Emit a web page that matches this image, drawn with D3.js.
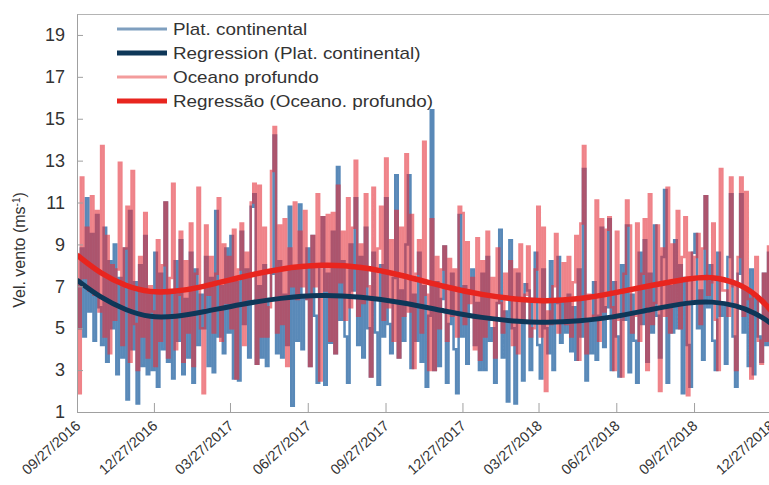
<!DOCTYPE html>
<html lang="en">
<head>
<meta charset="UTF-8">
<title>Vel. vento</title>
<script src="https://d3js.org/d3.v7.min.js"></script>
<style>
    body { margin: 0; background: #fff; font-family: "Liberation Sans", Arial, sans-serif; }
    svg { display: block; }
    .axis path, .axis line { stroke: #a0a0a0; }
    .axis text { fill: #333; font-family: "Liberation Sans", Arial, sans-serif; }
</style>
</head>
<body>
<svg id="chart" width="769" height="485"></svg>
<script>
// daily wind speed, sampled every 3 days from 09/27/2016
const seriesStart = "09/27/2016";
const stepDays = 3;

const platValues = [
    7.2, 5.0, 8.8, 4.6, 11.2, 5.8, 9.5, 4.4, 10.4, 6.0,
    4.2, 9.8, 3.4, 8.2, 5.0, 9.0, 2.8, 7.4, 3.6, 8.8,
    1.6, 10.6, 4.0, 7.2, 1.4, 8.0, 3.2, 9.4, 2.8, 6.8,
    3.0, 8.6, 2.2, 7.6, 4.0, 11.0, 3.4, 6.8, 2.6, 8.2,
    4.4, 9.2, 2.8, 6.4, 3.6, 8.6, 2.4, 7.8, 4.2, 6.6,
    5.0, 8.4, 3.2, 7.4, 2.9, 10.6, 4.6, 7.0, 3.8, 8.8,
    4.8, 9.4, 2.6, 7.2, 2.5, 9.6, 5.2, 7.8, 3.6, 10.8,
    11.4, 3.3, 7.0, 3.6, 8.0, 3.2, 6.4, 7.6, 14.2, 3.8,
    8.2, 3.6, 6.6, 4.2, 10.8, 1.3, 7.8, 4.4, 10.9, 4.0,
    6.4, 8.8, 3.2, 9.4, 5.6, 2.4, 8.0, 10.3, 2.3, 7.6,
    4.3, 9.6, 3.8, 12.7, 5.4, 8.2, 4.6, 2.4, 9.0, 6.8,
    11.2, 4.2, 8.4, 3.6, 9.8, 5.0, 2.7, 8.6, 4.8, 2.3,
    8.0, 4.6, 11.2, 5.2, 3.8, 7.4, 12.3, 3.6, 6.8, 4.4,
    9.0, 12.3, 3.1, 6.6, 4.4, 8.6, 3.4, 7.0, 2.2, 5.6,
    15.4, 3.0, 7.2, 3.2, 6.4, 8.9, 2.4, 5.2, 7.6, 4.0,
    1.9, 10.4, 4.6, 7.0, 3.3, 6.8, 7.8, 4.2, 6.2, 3.0,
    7.6, 3.0, 8.4, 4.4, 5.0, 2.4, 6.2, 9.7, 3.6, 5.8,
    1.5, 9.2, 5.0, 1.4, 7.6, 6.4, 2.5, 7.1, 6.8, 3.0,
    6.4, 8.6, 4.2, 2.6, 7.8, 5.0, 3.8, 8.2, 3.0, 6.2,
    8.4, 4.3, 6.2, 4.8, 6.6, 3.9, 6.0, 3.5, 7.8, 4.6,
    12.6, 2.5, 5.4, 3.8, 7.2, 3.5, 5.6, 9.8, 4.1, 6.0,
    10.2, 3.0, 7.2, 4.6, 2.7, 8.0, 5.4, 9.9, 2.9, 6.6,
    4.4, 2.4, 8.6, 5.2, 9.2, 3.4, 7.6, 4.8, 9.9, 5.6,
    3.6, 8.4, 11.6, 2.4, 7.0, 4.8, 9.2, 5.0, 8.0, 1.9,
    7.4, 4.2, 2.2, 8.6, 9.5, 5.0, 6.8, 3.5, 11.3, 6.0,
    8.0, 4.4, 3.0, 8.6, 5.6, 6.2, 3.3, 8.4, 11.4, 4.6,
    2.2, 7.6, 11.4, 4.8, 6.8, 3.2, 7.8, 2.8, 6.4, 4.6,
    3.4, 7.6, 4.2, 8.6, 3.6, 6.8, 4.4, 7.2, 3.8, 6.2
];

const oceanoValues = [
    8.4, 1.9, 12.2, 7.4, 9.8, 6.8, 11.3, 6.6, 10.6, 5.8,
    13.7, 4.6, 9.4, 3.8, 8.0, 5.4, 7.8, 12.9, 4.2, 8.8,
    10.8, 3.4, 12.5, 5.2, 3.0, 8.4, 4.6, 10.5, 3.6, 7.0,
    5.8, 3.2, 9.2, 4.4, 8.0, 11.0, 3.6, 7.4, 11.9, 4.0,
    6.6, 9.6, 3.4, 8.2, 4.8, 10.0, 3.2, 7.6, 11.7, 5.0,
    1.9, 9.9, 6.6, 8.4, 4.8, 7.6, 11.2, 4.4, 9.0, 6.2,
    8.4, 5.0, 9.7, 2.6, 7.8, 10.0, 4.2, 8.6, 6.4, 11.0,
    11.9, 3.3, 11.8, 4.6, 9.8, 4.6, 6.0, 12.5, 14.6, 4.8,
    9.9, 5.2, 10.2, 3.2, 8.8, 7.0, 11.0, 6.4, 9.6, 7.0,
    10.6, 6.4, 3.2, 9.4, 7.0, 11.4, 2.5, 10.3, 6.8, 10.4,
    4.4, 10.5, 3.8, 11.8, 7.2, 9.6, 5.4, 11.2, 6.0, 9.8,
    13.0, 5.6, 9.0, 6.2, 11.4, 7.0, 2.7, 11.7, 6.4, 8.8,
    10.8, 5.4, 13.1, 6.0, 9.2, 4.4, 10.6, 3.6, 9.8, 5.6,
    13.3, 5.8, 10.4, 3.1, 7.6, 9.2, 4.8, 13.9, 6.6, 3.0,
    10.2, 3.0, 8.4, 5.0, 7.8, 8.9, 4.4, 8.3, 5.6, 7.8,
    4.6, 10.8, 10.5, 5.2, 9.1, 6.2, 7.4, 4.0, 9.3, 3.5,
    8.2, 4.6, 9.6, 5.4, 7.4, 3.6, 8.8, 6.2, 4.8, 7.6,
    6.4, 8.2, 4.2, 7.8, 3.8, 9.0, 5.4, 6.6, 8.9, 4.6,
    5.0, 7.8, 10.8, 4.6, 9.8, 2.0, 5.8, 5.2, 7.0, 9.5,
    4.8, 6.4, 8.1, 5.2, 8.4, 4.6, 7.2, 9.4, 3.5, 10.0,
    13.7, 3.8, 6.6, 5.4, 5.6, 11.1, 4.4, 10.2, 5.8, 9.7,
    10.3, 6.0, 3.0, 9.6, 5.4, 2.7, 7.6, 11.1, 9.9, 4.8,
    5.6, 10.0, 4.4, 7.6, 10.2, 3.0, 11.4, 5.2, 6.2, 9.9,
    2.0, 8.8, 5.6, 11.7, 4.8, 9.0, 6.2, 10.6, 5.0, 8.4,
    10.3, 1.8, 8.6, 6.4, 8.4, 9.5, 5.2, 8.8, 11.3, 6.6,
    7.2, 10.0, 5.4, 3.0, 12.6, 6.8, 6.8, 5.6, 12.2, 7.0,
    3.0, 8.4, 12.2, 5.6, 11.5, 6.4, 2.6, 6.6, 8.4, 4.4,
    3.3, 7.6, 4.4, 8.9, 4.0, 7.2, 3.8, 6.8, 4.4, 6.0
];

// regression curves
const regDates = ["09/27/2016", "10/25/2016", "11/24/2016", "12/22/2016", "01/22/2017",
    "02/21/2017", "04/09/2017", "05/26/2017", "07/13/2017", "08/29/2017", "10/15/2017",
    "12/08/2017", "01/18/2018", "03/06/2018", "04/03/2018", "05/16/2018", "06/21/2018",
    "08/07/2018", "09/24/2018", "10/17/2018", "11/16/2018", "12/10/2018", "12/26/2018", "01/10/2019"];
const regPlat = [7.3, 6.45, 5.85, 5.5, 5.55, 5.75, 6.15, 6.45, 6.6, 6.5, 6.25,
    5.8, 5.5, 5.3, 5.27, 5.35, 5.5, 5.9, 6.25, 6.28, 6.1, 5.7, 5.27, 4.8];
const regOceano = [8.5, 7.6, 7.0, 6.7, 6.75, 6.95, 7.45, 7.85, 8.05, 7.95, 7.55,
    6.95, 6.6, 6.35, 6.28, 6.4, 6.65, 7.05, 7.4, 7.47, 7.2, 6.6, 5.9, 5.2];

const tickDates = ["09/27/2016", "12/27/2016", "03/27/2017", "06/27/2017", "09/27/2017",
    "12/27/2017", "03/27/2018", "06/27/2018", "09/27/2018", "12/27/2018"];
const yTicks = [1, 3, 5, 7, 9, 11, 13, 15, 17, 19];

const legendItems = [
    { label: "Plat. continental", key: "plat" },
    { label: "Regression (Plat. continental)", key: "regPlat" },
    { label: "Oceano profundo", key: "oceano" },
    { label: "Regressão (Oceano. profundo)", key: "regOceano" }
];

const colors = {
    plat: "rgba(42,104,164,0.78)",
    regPlat: "#0e3758",
    oceano: "rgba(228,48,58,0.6)",
    regOceano: "#e8251f"
};
const legendColors = {
    plat: "#7f9fbf",
    regPlat: "#0e3758",
    oceano: "#f39c9c",
    regOceano: "#e8251f"
};
const widths = { plat: 2.5, regPlat: 5, oceano: 2.5, regOceano: 5.5 };

const parse = d3.utcParse("%m/%d/%Y");
const fmt = d3.utcFormat("%m/%d/%Y");
const t0 = parse(seriesStart);

const svg = d3.select("#chart");
const plotLeft = 77, plotTop = 14, plotBottom = 412, plotRight = 782.8;

const x = d3.scaleUtc()
    .domain([t0, parse("01/10/2019")])
    .range([plotLeft, plotRight]);
const y = d3.scaleLinear().domain([1, 20]).range([plotBottom, plotTop]);

const platData = platValues.map((v, i) => ({ date: d3.utcDay.offset(t0, i * stepDays), v }));
const oceanoData = oceanoValues.map((v, i) => ({ date: d3.utcDay.offset(t0, i * stepDays), v }));
const regPlatData = regDates.map((d, i) => ({ date: parse(d), v: regPlat[i] }));
const regOceanoData = regDates.map((d, i) => ({ date: parse(d), v: regOceano[i] }));

svg.append("defs").append("clipPath").attr("id", "plotClip")
    .append("rect")
    .attr("x", plotLeft + 1).attr("y", plotTop)
    .attr("width", plotRight - plotLeft).attr("height", plotBottom - plotTop);

// frame top
svg.append("line")
    .attr("x1", plotLeft).attr("x2", 769)
    .attr("y1", y(20) + 0.5).attr("y2", y(20) + 0.5)
    .attr("stroke", "#b4b4b4");

const stepLine = d3.line().x(d => x(d.date)).y(d => y(d.v)).curve(d3.curveStep);
const smooth = d3.line().x(d => x(d.date)).y(d => y(d.v)).curve(d3.curveBasis);

const plot = svg.append("g").attr("clip-path", "url(#plotClip)");

plot.append("path").datum(platData)
    .attr("fill", "none").attr("stroke", colors.plat)
    .attr("stroke-width", widths.plat)
    .attr("d", stepLine);

plot.append("path").datum(oceanoData)
    .attr("fill", "none").attr("stroke", colors.oceano)
    .attr("stroke-width", widths.oceano)
    .attr("d", stepLine);

plot.append("path").datum(regPlatData)
    .attr("fill", "none").attr("stroke", colors.regPlat)
    .attr("stroke-width", widths.regPlat)
    .attr("d", smooth);

plot.append("path").datum(regOceanoData)
    .attr("fill", "none").attr("stroke", colors.regOceano)
    .attr("stroke-width", widths.regOceano)
    .attr("d", smooth);

// y axis
const yAxis = svg.append("g")
    .attr("class", "axis")
    .attr("transform", `translate(${plotLeft},0)`)
    .call(d3.axisLeft(y).tickValues(yTicks).tickSizeInner(-6).tickSizeOuter(0).tickPadding(12));
yAxis.selectAll("text").style("font-size", "18px");

// x axis
const xAxis = svg.append("g")
    .attr("class", "axis")
    .attr("transform", `translate(0,${plotBottom})`)
    .call(d3.axisBottom(x).tickValues(tickDates.map(parse)).tickFormat(fmt)
        .tickSizeInner(-9).tickSizeOuter(0));
xAxis.select(".domain").attr("d", `M${plotLeft},0.5H769`);
xAxis.selectAll("text")
    .style("font-size", "14.5px")
    .attr("text-anchor", "end")
    .attr("dy", null)
    .attr("y", 0)
    .attr("transform", "translate(4,15) rotate(-42)");

// y title
svg.append("text")
    .attr("transform", "translate(25,250) rotate(-90)")
    .attr("text-anchor", "middle")
    .attr("fill", "#333")
    .style("font-size", "16px")
    .text("Vel. vento (ms")
    .call(t => t.append("tspan").attr("baseline-shift", "super").style("font-size", "10px").text("-1"))
    .call(t => t.append("tspan").text(")"));

// legend
const legend = svg.append("g").attr("transform", "translate(117,29)");
legendItems.forEach((item, i) => {
    const row = legend.append("g").attr("transform", `translate(0,${i * 24})`);
    row.append("line")
        .attr("x1", 0).attr("x2", 50)
        .attr("stroke", legendColors[item.key])
        .attr("stroke-width", item.key.startsWith("reg") ? 5 : 3);
    row.append("text")
        .attr("transform", "translate(56,0) scale(1.18,1)")
        .attr("dy", "0.35em")
        .attr("fill", "#333")
        .style("font-size", "16px")
        .text(item.label);
});
</script>
</body>
</html>
